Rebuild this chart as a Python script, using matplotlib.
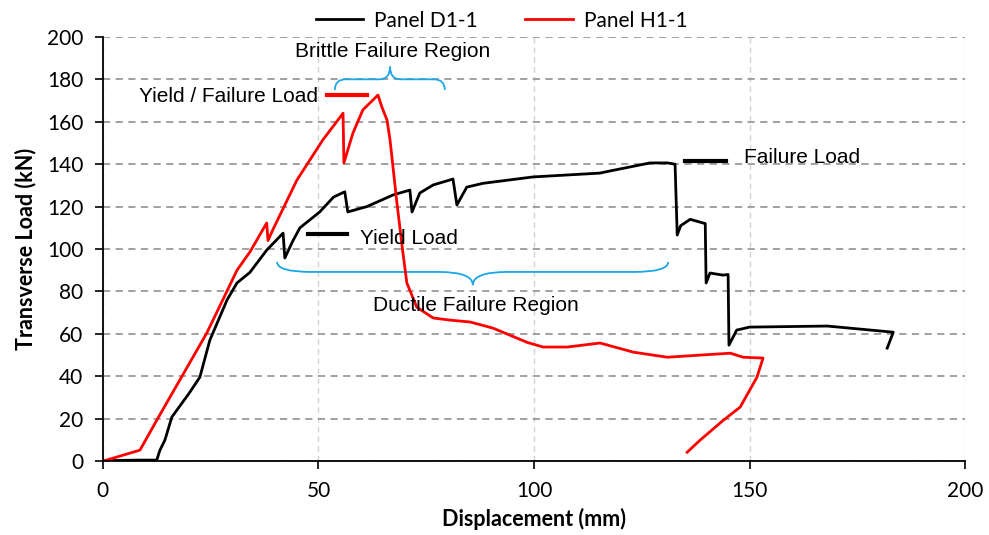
"""Load-displacement curves for panels D1-1 and H1-1 with failure annotations."""
import matplotlib

matplotlib.use("Agg")
import matplotlib.pyplot as plt
from matplotlib.path import Path
from matplotlib.patches import PathPatch

plt.rcParams["font.family"] = ["Lato", "DejaVu Sans"]

# Panel D1-1 (black)
d1_disp = [0, 2.3, 8, 12.5, 13.2, 14.4, 16.0, 20, 22.5, 24.8, 28.8, 31.1, 34.1, 38.0,
           41.8, 42.2, 44.1, 45.7, 50.3, 53.5, 56.1, 56.8, 61.2, 67.3, 71.2, 71.7, 73.5,
           76.6, 81.2, 82.1, 84.4, 88.2, 99.8, 115.3, 117.6, 126.9, 130.9, 132.7,
           133.2, 134.0, 136.2, 139.7, 139.9, 140.8, 143.8, 145.0, 145.2, 147.0,
           150.0, 168.0, 183.3, 181.9]
d1_load = [0, 0.3, 0.5, 0.5, 5, 10, 20.8, 32, 39.6, 57, 76, 84, 89, 99.5,
           107.5, 95.8, 104, 110, 117.5, 124.5, 127, 117.5, 120, 125.5, 127.8, 117.5, 126.4,
           130.2, 133, 120.8, 129.2, 131, 134, 135.8, 136.8, 140.6, 140.6, 140,
           106.6, 111, 114, 112, 84, 88.7, 87.7, 88, 54.7, 61.8,
           63.2, 63.7, 60.8, 53.3]

# Panel H1-1 (red)
h1_disp = [0, 8.6, 12.5, 24.1, 27.8, 31.1, 34.1, 38.0, 38.3, 39.4, 45.0, 51.0, 55.7,
           55.9, 58.0, 60.3, 63.8, 64.7, 65.9, 66.6, 68.2, 69.6, 70.5, 72.8, 76.6,
           80.5, 85.2, 90.5, 98.4, 102.1, 107.7, 115.3, 123.0, 130.9, 138.5, 145.5,
           148.5, 153.1, 151.7, 147.8, 143.9, 138.5, 135.5]
h1_load = [0, 5.2, 19.3, 60.4, 76, 90, 98.6, 112.3, 104, 109, 132.5, 151.4, 164,
           140.6, 154.7, 165.6, 172.6, 167, 160.8, 151.4, 121.7, 98, 84, 72.6, 67.5,
           66.5, 65.6, 62.7, 56, 53.8, 53.8, 55.7, 51.4, 49, 50, 50.9,
           49, 48.6, 39.6, 25.5, 19.3, 9.9, 4.2]

x_ticks = [0, 50, 100, 150, 200]
y_ticks = list(range(0, 201, 20))

BRACE_BLUE = "#1aa7e6"


def brace(ax, x0, x1, xm, y_end, y_flat, y_tip, r=2.5):
    """Curly brace in data coords; r is the curl length along x."""
    verts = [
        (x0, y_end), (x0, y_flat), (x0 + r, y_flat),
        (xm - r, y_flat),
        (xm, y_flat), (xm, y_tip),
        (xm, y_tip), (xm, y_flat), (xm + r, y_flat),
        (x1 - r, y_flat),
        (x1, y_flat), (x1, y_end),
    ]
    codes = [Path.MOVETO, Path.CURVE3, Path.CURVE3, Path.LINETO,
             Path.CURVE3, Path.CURVE3,
             Path.MOVETO, Path.CURVE3, Path.CURVE3,
             Path.LINETO, Path.CURVE3, Path.CURVE3]
    ax.add_patch(PathPatch(Path(verts, codes), fill=False, ec=BRACE_BLUE, lw=1.3))


fig = plt.figure(figsize=(9.89, 5.35), dpi=100)
ax = fig.add_axes([0.104, 0.138, 0.872, 0.793])

ax.plot(d1_disp, d1_load, color="black", lw=2, label="Panel D1-1")
ax.plot(h1_disp, h1_load, color="#ff0000", lw=2, label="Panel H1-1")

ax.set_xlim(0, 200)
ax.set_ylim(0, 200)
ax.set_xticks(x_ticks)
ax.set_yticks(y_ticks)
ax.tick_params(labelsize=15, length=6, width=1.2, direction="out", pad=8)
ax.yaxis.grid(True, ls=(0, (4, 3)), color="#9a9a9a", lw=1.3)
ax.xaxis.grid(True, ls=(0, (4, 3)), color="#d2d2d2", lw=1)
ax.set_axisbelow(True)
for side in ("top", "right"):
    ax.spines[side].set_visible(False)
for side in ("left", "bottom"):
    ax.spines[side].set_linewidth(1.3)
ax.set_xlabel("Displacement (mm)", fontsize=15.5, fontweight="bold", labelpad=5)
ax.set_ylabel("Transverse Load (kN)", fontsize=15.5, fontweight="bold", labelpad=8)

fig.legend(loc="upper center", bbox_to_anchor=(0.507, 1.015), ncol=2, frameon=False,
           fontsize=15, handlelength=2.3, handletextpad=0.5, columnspacing=2.3)

# annotations
ann = dict(fontsize=15, family="Liberation Sans", color="black")
ax.text(67.3, 193, "Brittle Failure Region", ha="center", va="center", **ann)
brace(ax, 53.8, 79.3, 66.6, 175, 180, 186)
ax.plot([52, 61.3], [172.6, 172.6], color="#ff0000", lw=3)
ax.text(49.9, 171.7, "Yield / Failure Load", ha="right", va="center", **ann)
ax.plot([135, 144.5], [141.5, 141.5], color="black", lw=3)
ax.text(148.7, 143, "Failure Load", ha="left", va="center", **ann)
ax.plot([47.6, 56.6], [107, 107], color="black", lw=3)
ax.text(59.6, 105, "Yield Load", ha="left", va="center", **ann)
brace(ax, 40.4, 131.1, 85.8, 93.9, 89.2, 83, r=8)
ax.text(86.5, 73.6, "Ductile Failure Region", ha="center", va="center", **ann)

fig.savefig("out.png", dpi=100)
